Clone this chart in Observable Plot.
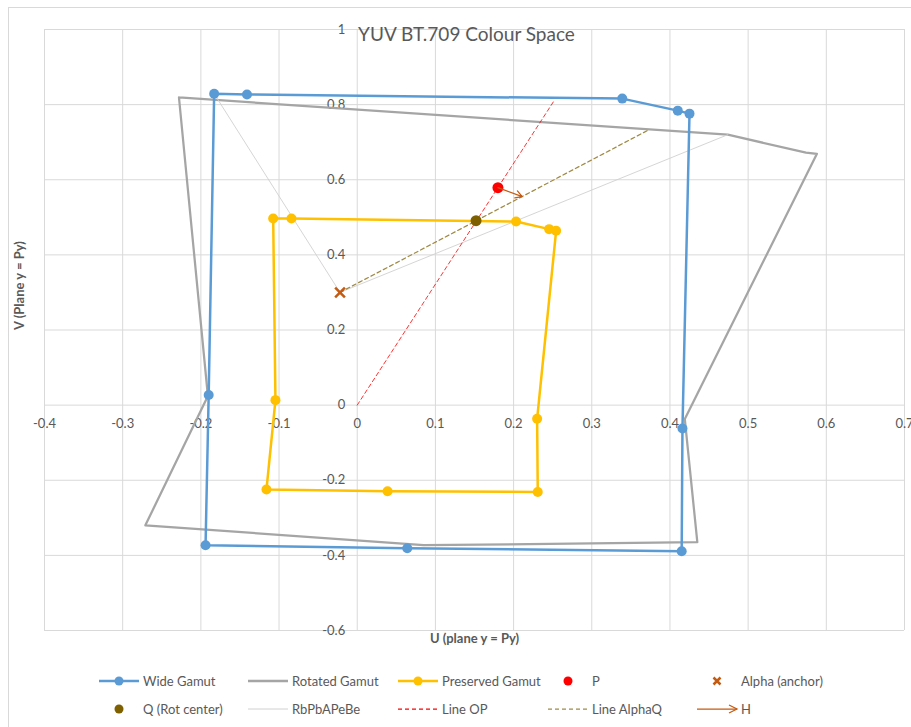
<!DOCTYPE html>
<html><head><meta charset="utf-8">
<script src="https://cdn.jsdelivr.net/npm/d3@7"></script>
<script src="https://cdn.jsdelivr.net/npm/@observablehq/plot@0.6"></script>
<style>
body{margin:0;background:#fff;font-family:Lato,"Open Sans",sans-serif;}
#wrap{position:relative;width:911px;height:727px;overflow:hidden;}
#frame{position:absolute;left:8px;top:7px;width:930px;height:760px;border:1px solid #d9d9d9;box-sizing:border-box;}
#chart{position:absolute;left:0;top:0;}
#legend{position:absolute;left:0;top:0;}
</style></head><body>
<div id="wrap"><div id="frame"></div><div id="chart"></div><svg id="legend" width="911" height="727"></svg></div>
<script>
// ---- data ----
const title = "YUV BT.709 Colour Space";
const xTitle = "U (plane y = Py)";
const yTitle = "V (Plane y = Py)";
const xTicks = [-0.4,-0.3,-0.2,-0.1,0,0.1,0.2,0.3,0.4,0.5,0.6,0.7];
const xTickLabels = ["-0.4","-0.3","-0.2","-0.1","0","0.1","0.2","0.3","0.4","0.5","0.6","0.7"];
const yTicks = [-0.6,-0.4,-0.2,0,0.2,0.4,0.6,0.8,1];
const yTickLabels = ["-0.6","-0.4","-0.2","0","0.2","0.4","0.6","0.8","1"];

const wideU = [-0.183,-0.141,0.339,0.410,0.425,0.416,0.415,0.064,-0.194,-0.190,-0.183];
const wideV = [0.829,0.827,0.816,0.784,0.776,-0.062,-0.389,-0.381,-0.373,0.027,0.829];

const rotU = [-0.228,0.474,0.574,0.588,0.419,0.435,0.085,-0.271,-0.191,-0.228];
const rotV = [0.819,0.720,0.672,0.669,-0.037,-0.365,-0.373,-0.320,0.024,0.819];

const presU = [-0.1075,-0.0841,0.2032,0.2455,0.2544,0.2301,0.2309,0.0388,-0.1161,-0.1046,-0.1075];
const presV = [0.4968,0.4968,0.4888,0.4685,0.4640,-0.0365,-0.2312,-0.2293,-0.2248,0.0133,0.4968];

const pU = [0.180], pV = [0.579];
const alphaU = [-0.022], alphaV = [0.300];
const qU = [0.152], qV = [0.491];

const rbU = [-0.183,-0.022,0.474];
const rbV = [0.829,0.300,0.720];

const opU = [0,0.252];
const opV = [0,0.811];

const aqU = [-0.022,0.374];
const aqV = [0.300,0.734];

const hU = [0.180,0.211];
const hV = [0.579,0.555];

const legendItems = [
  {label:"Wide Gamut", kind:"linedot", color:"#5b9bd5", col:0, row:0},
  {label:"Rotated Gamut", kind:"line", color:"#a5a5a5", col:1, row:0},
  {label:"Preserved Gamut", kind:"linedot", color:"#ffc000", col:2, row:0},
  {label:"P", kind:"dot", color:"#ff0000", col:3, row:0},
  {label:"Alpha (anchor)", kind:"x", color:"#c55a11", col:4, row:0},
  {label:"Q (Rot center)", kind:"dot", color:"#7f6000", col:0, row:1},
  {label:"RbPbAPeBe", kind:"thin", color:"#d0d0d0", col:1, row:1},
  {label:"Line OP", kind:"dash", color:"#ff0000", col:2, row:1},
  {label:"Line AlphaQ", kind:"dash", color:"#a08a45", col:3, row:1},
  {label:"H", kind:"arrow", color:"#c55a11", col:4, row:1}
];

// ---- build tables ----
const pts = (U,V) => U.map((u,i)=>({u, v:V[i]}));
const wide = pts(wideU, wideV);
const rot = pts(rotU, rotV);
const pres = pts(presU, presV);
const P = pts(pU, pV), A = pts(alphaU, alphaV), Q = pts(qU, qV);
const rb = pts(rbU, rbV), op = pts(opU, opV), aq = pts(aqU, aqV);
const H = [{u1:hU[0], v1:hV[0], u2:hU[1], v2:hV[1]}];
const xt = xTicks.map((t,i)=>({t, s:xTickLabels[i]}));
const yt = yTicks.map((t,i)=>({t, s:yTickLabels[i]}));

const txt = "#595959";
const chart = Plot.plot({
  width: 911, height: 650,
  marginLeft: 44, marginRight: 7, marginTop: 29, marginBottom: 20,
  x: {domain: [-0.4, 0.7], axis: null},
  y: {domain: [-0.6, 1], axis: null},
  style: {fontFamily: "Lato, 'Open Sans', sans-serif", fontSize: "13px", color: txt, background: "transparent", overflow: "visible"},
  marks: [
    Plot.gridX(xTicks, {stroke: "#d9d9d9", strokeOpacity: 1}),
    Plot.gridY(yTicks, {stroke: "#d9d9d9", strokeOpacity: 1}),
    Plot.text(xt, {x: "t", y: () => 0, text: "s", dy: 19, fill: txt, fontSize: 13}),
    Plot.text(yt, {x: () => 0, y: "t", text: "s", dx: -12, textAnchor: "end", fill: txt, fontSize: 13}),
    Plot.text([title], {frameAnchor: "top", text: d => d, dy: -2, dx: -8, fill: txt, fontSize: 19}),
    Plot.text([xTitle], {frameAnchor: "bottom", text: d => d, dy: 12, fill: txt, fontSize: 13, fontWeight: "bold"}),
    Plot.text([yTitle], {frameAnchor: "left", text: d => d, dx: -25, rotate: -90, fill: txt, fontSize: 13, fontWeight: "bold"}),
    Plot.line(rot, {x: "u", y: "v", stroke: "#a5a5a5", strokeWidth: 2.25, curve: "linear"}),
    Plot.line(rb, {x: "u", y: "v", stroke: "#d0d0d0", strokeWidth: 0.9}),
    Plot.line(wide, {x: "u", y: "v", stroke: "#5b9bd5", strokeWidth: 2.5}),
    Plot.dot(wide.slice(0, -1), {x: "u", y: "v", r: 5, fill: "#5b9bd5"}),
    Plot.line(pres, {x: "u", y: "v", stroke: "#ffc000", strokeWidth: 2.5}),
    Plot.dot(pres.slice(0, -1), {x: "u", y: "v", r: 5, fill: "#ffc000"}),
    Plot.line(op, {x: "u", y: "v", stroke: "#ff0000", strokeWidth: 1, strokeDasharray: "4,3", strokeOpacity: 0.8}),
    Plot.line(aq, {x: "u", y: "v", stroke: "#a08a45", strokeWidth: 1.25, strokeDasharray: "4,3"}),
    Plot.dot(P, {x: "u", y: "v", r: 5.5, fill: "#ff0000"}),
    Plot.dot(Q, {x: "u", y: "v", r: 5.5, fill: "#7f6000"}),
    Plot.dot(A, {x: "u", y: "v", r: 4.5, symbol: "times", stroke: "#c55a11", strokeWidth: 2.5}),
    Plot.arrow(H, {x1: "u1", y1: "v1", x2: "u2", y2: "v2", stroke: "#c55a11", strokeWidth: 1.25, headLength: 9})
  ]
});
document.getElementById("chart").appendChild(chart);

// ---- legend ----
const lg = d3.select("#legend");
const colSym = [99, 248, 398, 548, 697];
const rowY = [681, 709];
for (const it of legendItems) {
  const x0 = colSym[it.col], y = rowY[it.row], x1 = x0 + 40, cx = x0 + 20;
  const g = lg.append("g");
  if (it.kind === "linedot" || it.kind === "line") {
    g.append("line").attr("x1", x0).attr("x2", x1).attr("y1", y).attr("y2", y).attr("stroke", it.color).attr("stroke-width", 2.5);
    if (it.kind === "linedot") g.append("circle").attr("cx", cx).attr("cy", y).attr("r", 4.5).attr("fill", it.color);
  } else if (it.kind === "thin") {
    g.append("line").attr("x1", x0).attr("x2", x1).attr("y1", y).attr("y2", y).attr("stroke", it.color).attr("stroke-width", 1);
  } else if (it.kind === "dash") {
    g.append("line").attr("x1", x0).attr("x2", x1).attr("y1", y).attr("y2", y).attr("stroke", it.color).attr("stroke-width", 1.25).attr("stroke-dasharray", "4,3");
  } else if (it.kind === "dot") {
    g.append("circle").attr("cx", cx).attr("cy", y).attr("r", 4.5).attr("fill", it.color);
  } else if (it.kind === "x") {
    const s = 3.5;
    g.append("path").attr("d", `M${cx-s},${y-s}L${cx+s},${y+s}M${cx-s},${y+s}L${cx+s},${y-s}`).attr("stroke", it.color).attr("stroke-width", 2.5);
  } else if (it.kind === "arrow") {
    g.append("line").attr("x1", x0).attr("x2", x1).attr("y1", y).attr("y2", y).attr("stroke", it.color).attr("stroke-width", 1.25);
    g.append("path").attr("d", `M${x1-8},${y-4}L${x1},${y}L${x1-8},${y+4}`).attr("fill", "none").attr("stroke", it.color).attr("stroke-width", 1.25);
  }
  g.append("text").attr("x", x1 + 4).attr("y", y).attr("dy", "0.35em").attr("fill", txt)
    .attr("font-size", 13).attr("font-family", "Lato, 'Open Sans', sans-serif").text(it.label);
}
</script></body></html>
